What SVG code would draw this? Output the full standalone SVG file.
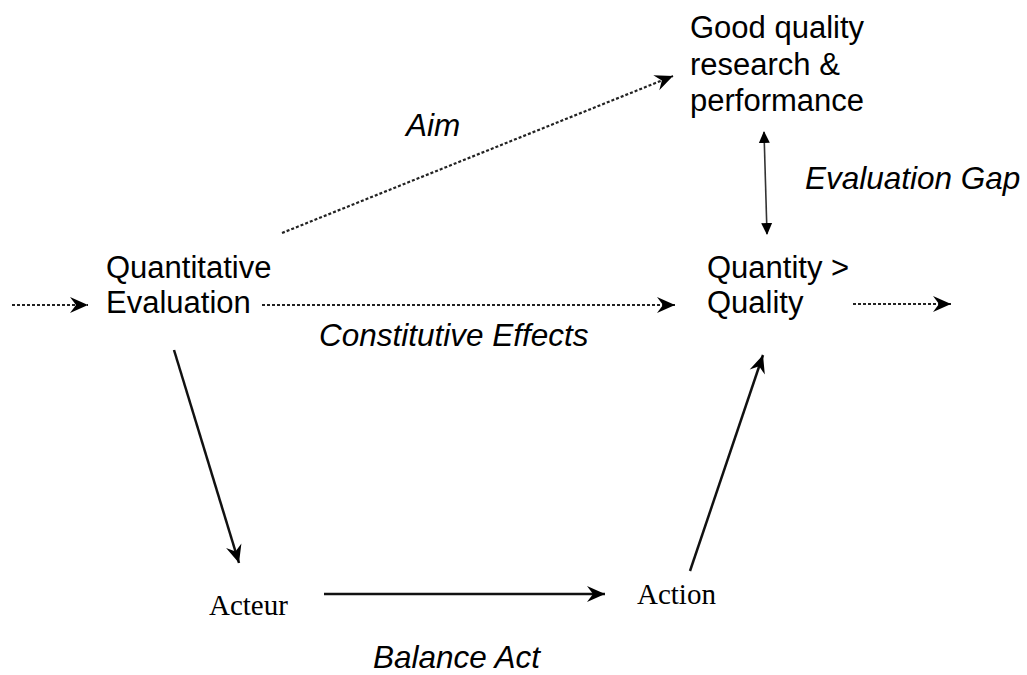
<svg xmlns="http://www.w3.org/2000/svg" width="1027" height="675" viewBox="0 0 1027 675">
<style>
.sans{font-family:"Liberation Sans",Arial,sans-serif;font-size:31px;fill:#000}
.ital{font-family:"Liberation Sans",Arial,sans-serif;font-size:31.5px;font-style:italic;fill:#000}
.serif{font-family:"Liberation Serif","Times New Roman",serif;font-size:29px;fill:#000}
.dash{stroke:#222;stroke-width:2.2;stroke-dasharray:3 2;fill:none}
.solid{stroke:#111;stroke-width:2.5;fill:none}
</style>
<defs>
<marker id="chev" viewBox="0 0 20 18" refX="19" refY="9" markerWidth="20" markerHeight="18" markerUnits="userSpaceOnUse" orient="auto">
<path d="M1,1 L19,9 L1,17 L7,9 z" fill="#000"/>
</marker>
<marker id="tri" viewBox="0 0 12 12" refX="11" refY="6" markerWidth="12" markerHeight="12" markerUnits="userSpaceOnUse" orient="auto-start-reverse">
<path d="M0,0.5 L12,6 L0,11.5 z" fill="#000"/>
</marker>
</defs>
<rect width="1027" height="675" fill="#fff"/>
<g id="connectors">
<line class="dash" x1="12" y1="305" x2="88" y2="305" marker-end="url(#chev)"/>
<line class="dash" x1="262" y1="305" x2="675" y2="305" marker-end="url(#chev)"/>
<line class="dash" x1="853" y1="304" x2="951" y2="304" marker-end="url(#chev)"/>
<line class="dash" x1="282" y1="233" x2="673" y2="76" marker-end="url(#chev)"/>
<line class="solid" x1="174" y1="350" x2="239" y2="563" marker-end="url(#chev)"/>
<line class="solid" x1="324" y1="594" x2="605" y2="594" marker-end="url(#chev)"/>
<line class="solid" x1="690" y1="571" x2="763" y2="355" marker-end="url(#chev)"/>
<line stroke="#333" stroke-width="1.6" x1="764" y1="132" x2="767" y2="234" marker-start="url(#tri)" marker-end="url(#tri)"/>
<text class="ital" x="406" y="136">Aim</text>
<text class="ital" x="805" y="189">Evaluation Gap</text>
<text class="ital" x="319" y="346">Constitutive Effects</text>
<text class="ital" x="373" y="668">Balance Act</text>
</g>
<g id="node-quant-eval">
<text class="sans" x="106" y="278">Quantitative</text>
<text class="sans" x="106" y="313">Evaluation</text>
</g>
<g id="node-good-quality">
<text class="sans" x="690" y="38">Good quality</text>
<text class="sans" x="690" y="75">research &amp;</text>
<text class="sans" x="690" y="111">performance</text>
</g>
<g id="node-quantity-quality">
<text class="sans" x="707" y="278">Quantity &gt;</text>
<text class="sans" x="707" y="313">Quality</text>
</g>
<g id="node-acteur">
<text class="serif" x="209" y="615">Acteur</text>
</g>
<g id="node-action">
<text class="serif" x="637" y="604">Action</text>
</g>
</svg>
